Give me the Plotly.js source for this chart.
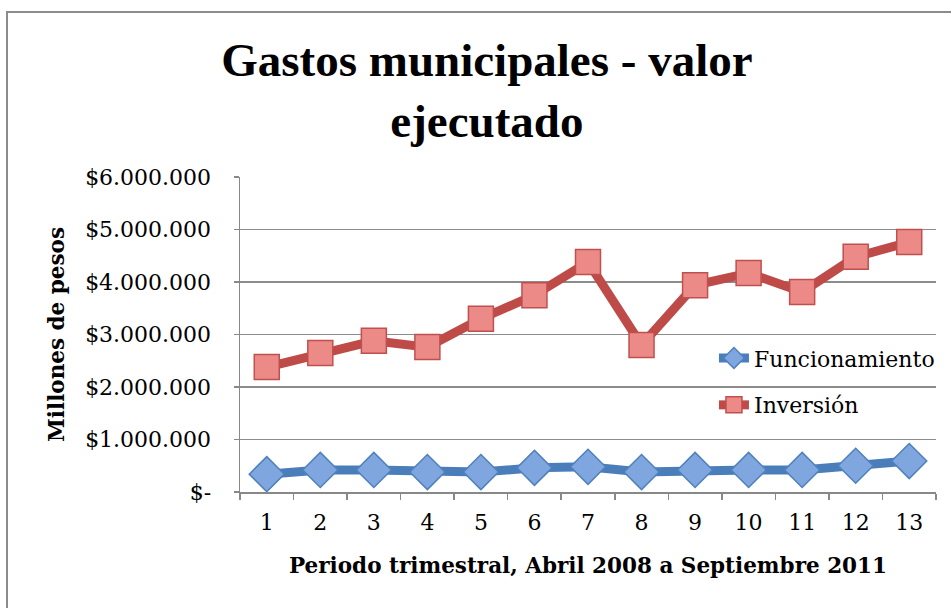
<!DOCTYPE html>
<html>
<head>
<meta charset="utf-8">
<script src="https://cdn.plot.ly/plotly-3.0.1.min.js"></script>
<style>
  html, body { margin: 0; padding: 0; background: #fff; }
  #wrap { position: relative; width: 951px; height: 608px; overflow: hidden; }
  #frame { position: absolute; left: 6px; top: 11px; width: 960px; height: 620px; border: 2px solid #8c8c8c; box-sizing: border-box; pointer-events: none; }
  #chart { position: absolute; left: 0; top: 0; width: 951px; height: 608px; }
</style>
</head>
<body>
<div id="wrap">
  <div id="chart"></div>
  <div id="frame"></div>
</div>
<script>
const categories = ["1","2","3","4","5","6","7","8","9","10","11","12","13"];
const funcionamiento = [340000, 420000, 420000, 380000, 380000, 460000, 480000, 380000, 420000, 420000, 420000, 500000, 590000];
const inversion = [2380000, 2650000, 2880000, 2760000, 3300000, 3750000, 4380000, 2800000, 3940000, 4170000, 3810000, 4480000, 4760000];
const yTickVals = [0, 1000000, 2000000, 3000000, 4000000, 5000000, 6000000];
const yTickText = ["$-", "$1.000.000", "$2.000.000", "$3.000.000", "$4.000.000", "$5.000.000", "$6.000.000"];

const titleFont = "Liberation Serif, Times New Roman, serif";
const serif = "DejaVu Serif, serif";

const traces = [
  {
    x: categories, y: funcionamiento, name: "Funcionamiento", type: "scatter", mode: "lines+markers",
    line: { color: "#4a7ebb", width: 9 },
    marker: { symbol: "diamond", size: 27, color: "#7fa6de", line: { color: "#4f81bd", width: 1.5 } },
    legend: "legend"
  },
  {
    x: categories, y: inversion, name: "Inversión", type: "scatter", mode: "lines+markers",
    line: { color: "#be4b48", width: 9 },
    marker: { symbol: "square", size: 25, color: "#ec8a88", line: { color: "#c0504d", width: 1.5 } },
    legend: "legend2"
  }
];

const layout = {
  width: 951, height: 608,
  paper_bgcolor: "#ffffff", plot_bgcolor: "#ffffff",
  margin: { l: 240, r: 14, t: 177, b: 116 },
  title: {
    text: "Gastos municipales - valor<br>ejecutado",
    font: { family: titleFont, size: 47, color: "#000", weight: "bold" },
    x: 0.512, xref: "container", xanchor: "center",
    y: 0.875, yref: "container", yanchor: "top"
  },
  xaxis: {
    type: "category",
    range: [-0.5, 12.5],
    tickson: "boundaries",
    ticks: "outside", ticklen: 6, tickcolor: "#888", tickwidth: 1.5,
    ticklabelstandoff: 10,
    showline: true, linecolor: "#888", linewidth: 1.5,
    showgrid: false, zeroline: false,
    tickfont: { family: serif, size: 22, color: "#000" },
    title: { text: "Periodo trimestral, Abril 2008 a Septiembre 2011", font: { family: serif, size: 21.5, color: "#000", weight: "bold" }, standoff: 24 },
    automargin: false
  },
  yaxis: {
    range: [0, 6000000],
    tickvals: yTickVals, ticktext: yTickText,
    ticks: "outside", ticklen: 5, tickcolor: "#888", tickwidth: 1.5,
    ticklabelstandoff: 18,
    showline: true, linecolor: "#888", linewidth: 1.5,
    showgrid: true, gridcolor: "#8c8c8c", gridwidth: 1.5,
    zeroline: false,
    tickfont: { family: serif, size: 22, color: "#000" },
    title: { text: "Millones de pesos", font: { family: serif, size: 21.5, color: "#000", weight: "bold" }, standoff: 14 },
    automargin: false
  },
  legend: {
    x: 0.680, y: 0.425, xanchor: "left", yanchor: "middle",
    bgcolor: "rgba(255,255,255,0)", borderwidth: 0,
    font: { family: serif, size: 22, color: "#000" }
  },
  legend2: {
    x: 0.680, y: 0.276, xanchor: "left", yanchor: "middle",
    bgcolor: "rgba(255,255,255,0)", borderwidth: 0,
    font: { family: serif, size: 22, color: "#000" }
  },
  showlegend: true
};

Plotly.newPlot("chart", traces, layout, { displayModeBar: false, staticPlot: true });
</script>
</body>
</html>
